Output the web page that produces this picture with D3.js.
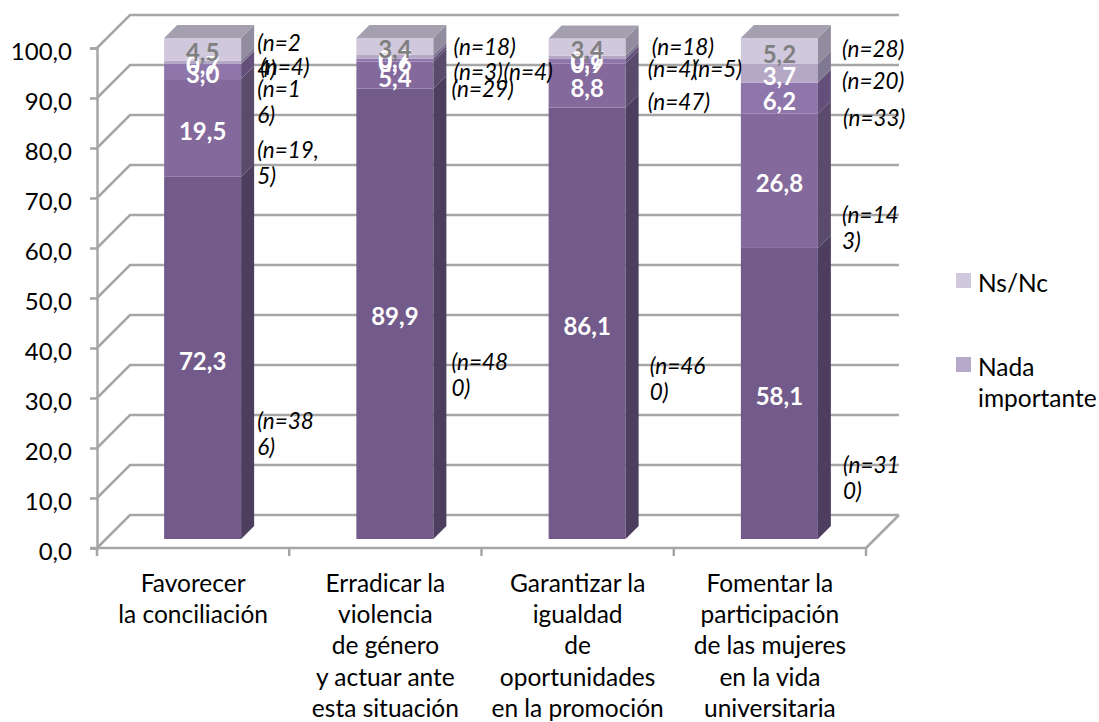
<!DOCTYPE html>
<html>
<head>
<meta charset="utf-8">
<script src="https://cdn.jsdelivr.net/npm/d3@7"></script>
<style>
  html, body { margin: 0; background: #fff; overflow: hidden; }
  text { font-family: Lato, "Open Sans", sans-serif; }
</style>
</head>
<body>
<div id="chart"></div>
<script>
const categories = ["Favorecer", "Erradicar", "Garantizar", "Fomentar"];
const categoryLines = [
  ["Favorecer", "la conciliación"],
  ["Erradicar la", "violencia", "de género", "y actuar ante", "esta situación"],
  ["Garantizar la", "igualdad", "de", "oportunidades", "en la promoción"],
  ["Fomentar la", "participación", "de las mujeres", "en la vida", "universitaria"]
];
const seriesKeys = ["s1", "s2", "s3", "s4", "Ns/Nc"];
const s1 = [72.3, 89.9, 86.1, 58.1];
const s2 = [19.5, 5.4, 8.8, 26.8];
const s3 = [3.0, 0.6, 0.9, 6.2];
const s4 = [0.7, 0.7, 0.7, 3.7];
const s5 = [4.5, 3.4, 3.4, 5.2];
const seriesValues = [s1, s2, s3, s4, s5];

// the n= notes, wrapped the way the original text boxes wrap them
const n1 = [["(n=38", "6)"], ["(n=48", "0)"], ["(n=46", "0)"], ["(n=31", "0)"]];
const n2 = [["(n=19,", "5)"], ["(n=29)"], ["(n=47)"], ["(n=14", "3)"]];
const n3 = [["(n=1", "6)"], ["(n=3)"], ["(n=5)"], ["(n=33)"]];
const n4 = [["(n=4)"], ["(n=4)"], ["(n=4)"], ["(n=20)"]];
const n5 = [["(n=2", "4)"], ["(n=18)"], ["(n=18)"], ["(n=28)"]];
const nLabels = [n1, n2, n3, n4, n5];

const legendItems = [
  { name: ["Ns/Nc"], color: "#d0c8dd" },
  { name: ["Nada", "importante"], color: "#b7a9c9" }
];

const frontColor = ["#725b8a", "#84699c", "#8e75aa", "#b5a7c6", "#d0c8dd"];
const sideColor = ["#4d3d5f", "#5a4a6b", "#644f7a", "#7f7892", "#928c9f"];
const topColor = "#a5a0af";
const gridColor = "#a6a6a6";

// hand placed note boxes: [dx from bar edge, dy from segment middle]
const nOffsets = [
  [[16, 63], [18, 48], [24, 43], [25, 71]],
  [[16, 22], [18, 14], [22, 16], [24, 34]],
  [[16, 17], [20, 12], [67, 8], [25, 20]],
  [[19, 5], [70, 15], [22, 12], [24, 8]],
  [[16, -6], [20, 0], [26, 0], [24, -2]]
];

const width = 1099, height = 722;
const depth = 33, barDepth = 13, barW = 77;

const svg = d3.select("#chart").append("svg")
  .attr("width", width)
  .attr("height", height);

const x = d3.scaleBand().domain(categories).range([97, 866]);
const y = d3.scaleLinear().domain([0, 100]).range([548, 48]);
const yBar = d3.scaleLinear().domain([0, 100]).range([539, 38]);
const tickVals = d3.range(0, 101, 10);
const comma = v => d3.format(".1f")(v).replace(".", ",");
const barX = c => x(c) + x.bandwidth() / 2 + 9.5 - barW / 2;

// walls
const grid = svg.append("g")
  .attr("fill", "none")
  .attr("stroke", gridColor)
  .attr("stroke-width", 2.5);

grid.selectAll("path")
  .data(tickVals)
  .join("path")
  .attr("d", d => `M97,${y(d)}L${97 + depth},${y(d) - depth}H${866 + depth}`);

grid.append("path")
  .attr("d", `M${866 + depth},${y(0) - depth}L866,${y(0)}`);

// axes
const yAxis = d3.axisLeft(y)
  .tickValues(tickVals)
  .tickFormat(comma)
  .tickSize(7)
  .tickPadding(18);

const gy = svg.append("g")
  .attr("transform", "translate(97,0)")
  .call(yAxis);
gy.selectAll("path, line").attr("stroke", gridColor).attr("stroke-width", 2.5);
gy.selectAll("text")
  .attr("fill", "#000")
  .style("font-size", "24px")
  .attr("dy", "0.48em");

const xAxis = svg.append("g");
xAxis.append("line")
  .attr("x1", 90).attr("x2", 866)
  .attr("y1", y(0)).attr("y2", y(0));
xAxis.selectAll(".tick")
  .data(d3.range(categories.length + 1))
  .join("line")
  .attr("class", "tick")
  .attr("x1", i => 97 + i * x.step())
  .attr("x2", i => 97 + i * x.step())
  .attr("y1", y(0))
  .attr("y2", y(0) + 8);
xAxis.selectAll("line").attr("stroke", gridColor).attr("stroke-width", 2.5);

// stacked bars
const stackRows = categories.map((c, i) => {
  const row = { cat: c };
  seriesKeys.forEach((k, j) => { row[k] = seriesValues[j][i]; });
  return row;
});
const stacked = d3.stack().keys(seriesKeys)(stackRows);

const bars = svg.append("g");
stacked.forEach((layer, j) => {
  const g = bars.append("g");

  g.selectAll(".front")
    .data(layer)
    .join("rect")
    .attr("class", "front")
    .attr("x", d => barX(d.data.cat))
    .attr("width", barW)
    .attr("y", d => yBar(d[1]))
    .attr("height", d => yBar(d[0]) - yBar(d[1]))
    .attr("fill", frontColor[j]);

  g.selectAll(".side")
    .data(layer)
    .join("path")
    .attr("class", "side")
    .attr("d", d => {
      const r = barX(d.data.cat) + barW;
      return `M${r},${yBar(d[0])}L${r + barDepth},${yBar(d[0]) - barDepth}` +
        `V${yBar(d[1]) - barDepth}L${r},${yBar(d[1])}Z`;
    })
    .attr("fill", sideColor[j]);
});

bars.selectAll(".top")
  .data(stacked[stacked.length - 1])
  .join("path")
  .attr("class", "top")
  .attr("d", d => {
    const l = barX(d.data.cat);
    return `M${l},${yBar(d[1])}H${l + barW}l${barDepth},${-barDepth}H${l + barDepth}Z`;
  })
  .attr("fill", topColor);

// value labels, the thin segments go first so the others sit over them
const valueLabels = svg.append("g")
  .attr("text-anchor", "middle")
  .style("font-size", "24px")
  .style("font-weight", 700);

[3, 2, 1, 0, 4].forEach(j => {
  valueLabels.append("g")
    .selectAll("text")
    .data(stacked[j])
    .join("text")
    .attr("x", d => barX(d.data.cat) + barW / 2)
    .attr("y", d => yBar((d[0] + d[1]) / 2) + 3)
    .attr("dy", "0.36em")
    .attr("fill", j === 4 ? "#7f7f7f" : "#fff")
    .text(d => comma(d[1] - d[0]));
});

// n= notes
const notes = svg.append("g")
  .style("font-size", "22.5px")
  .style("font-style", "italic");

stacked.forEach((layer, j) => {
  layer.forEach((d, i) => {
    const [dx, dy] = nOffsets[j][i];
    const left = barX(d.data.cat) + barW + dx;
    const mid = yBar((d[0] + d[1]) / 2) + dy;
    notes.append("text")
      .selectAll("tspan")
      .data(nLabels[j][i])
      .join("tspan")
      .attr("x", left)
      .attr("y", (t, k) => mid + k * 26)
      .attr("dy", "0.36em")
      .text(t => t);
  });
});

// category labels
const catLabels = svg.append("g")
  .attr("text-anchor", "middle")
  .style("font-size", "24.5px")
  .attr("fill", "#000");

catLabels.selectAll("text")
  .data(categories)
  .join("text")
  .selectAll("tspan")
  .data((c, i) => categoryLines[i].map(t => ({ c, t })))
  .join("tspan")
  .attr("x", d => x(d.c) + x.bandwidth() / 2)
  .attr("y", (d, k) => 583 + k * 31.3)
  .attr("dy", "0.36em")
  .text(d => d.t);

// legend
const legendTop = [273, 357];
const legend = svg.append("g").style("font-size", "24.5px");
legendItems.forEach((item, i) => {
  legend.append("rect")
    .attr("x", 956)
    .attr("y", legendTop[i])
    .attr("width", 15)
    .attr("height", 15)
    .attr("fill", item.color);
  legend.append("text")
    .selectAll("tspan")
    .data(item.name)
    .join("tspan")
    .attr("x", 978)
    .attr("y", (t, k) => legendTop[i] + 10 + k * 31)
    .attr("dy", "0.36em")
    .text(t => t);
});
</script>
</body>
</html>
